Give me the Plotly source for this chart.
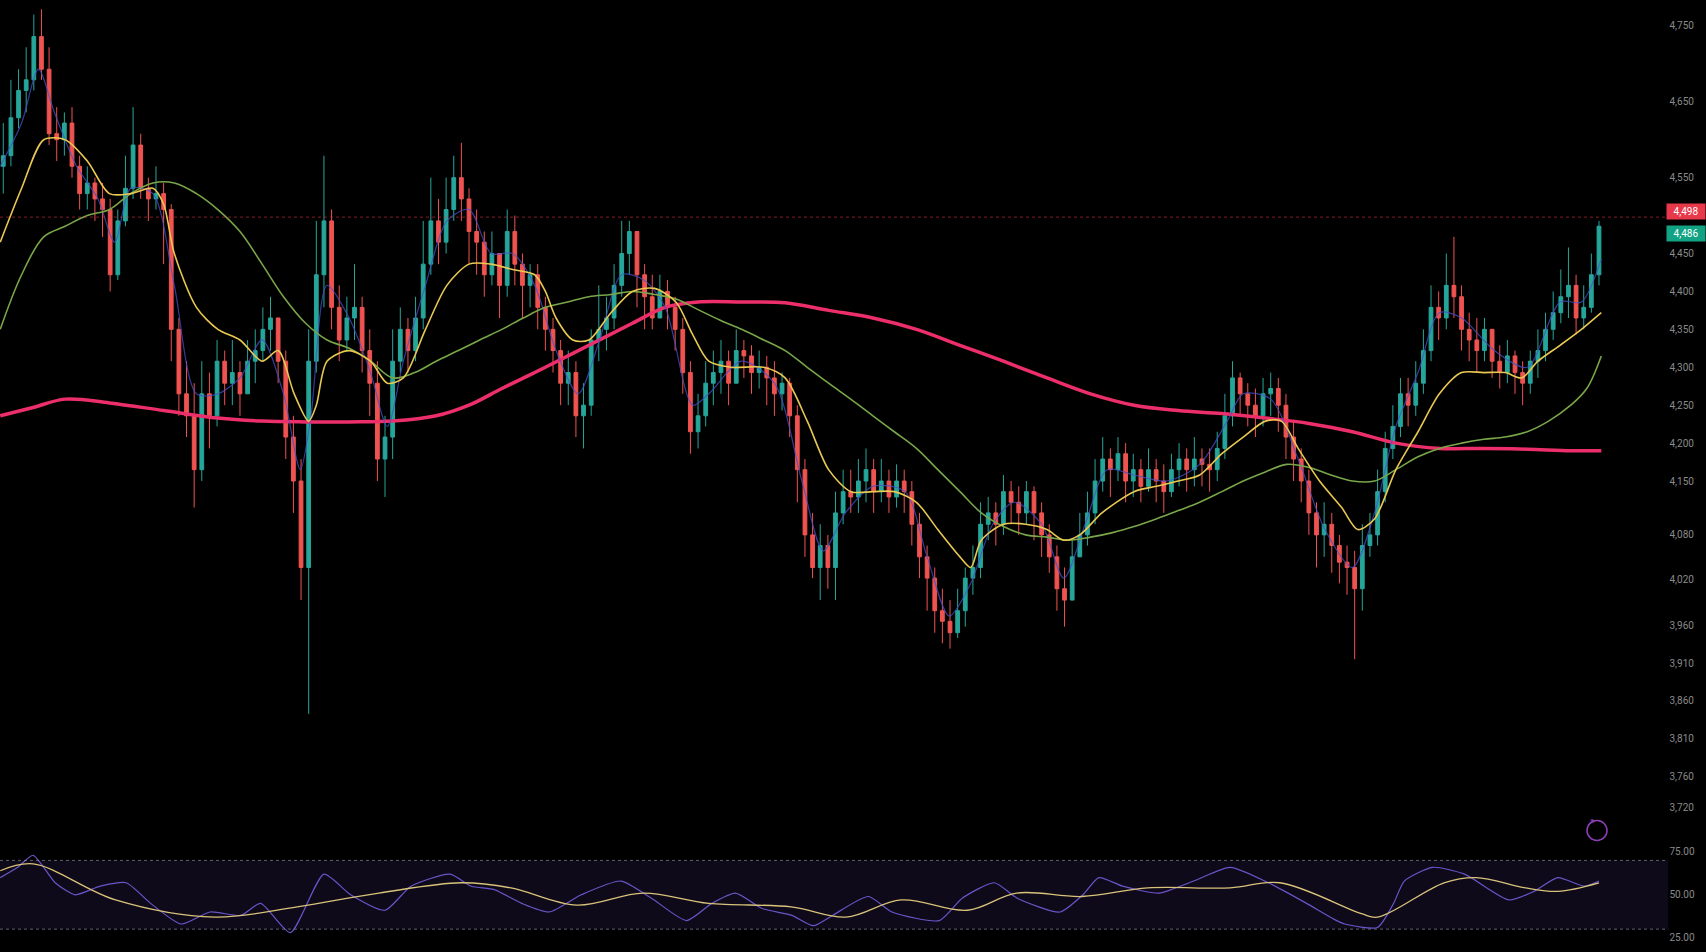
import plotly.graph_objects as go

# ---------------- price candles ----------------
first_open = 4565
close = [4579,4629,4665,4679,4736,4693,4608,4600,4622,4565,4529,4543,4522,4508,4422,4493,4536,4593,4536,4522,
         4529,4508,4350,4265,4236,4165,4265,4236,4308,4279,4293,4265,4308,4322,4350,4365,4308,4208,4150,4036,
         4308,4422,4493,4379,4336,4365,4379,4322,4279,4179,4208,4308,4350,4322,4365,4436,4493,4465,4508,4550,
         4522,4479,4465,4422,4450,4408,4479,4436,4408,4422,4379,4350,4322,4279,4293,4236,4250,4336,4350,4365,
         4408,4450,4479,4422,4393,4365,4400,4379,4350,4293,4215,4236,4279,4293,4308,4279,4322,4315,4293,4300,
         4286,4265,4279,4236,4165,4079,4036,4065,4036,4108,4136,4129,4150,4165,4136,4150,4129,4150,4136,4093,
         4050,4022,3979,3965,3950,3979,4022,4036,4093,4108,4093,4136,4122,4108,4136,4108,4079,4050,4008,3993,
         4050,4079,4108,4150,4179,4165,4186,4150,4165,4143,4165,4150,4136,4165,4179,4165,4179,4172,4165,4193,
         4236,4286,4265,4250,4236,4265,4272,4250,4208,4179,4150,4108,4079,4093,4065,4043,4036,4008,4065,4079,
         4136,4193,4222,4265,4250,4279,4322,4379,4365,4408,4393,4350,4336,4322,4350,4308,4293,4315,4293,4279,
         4308,4322,4350,4372,4393,4408,4365,4379,4422,4486]
high = [4622,4679,4693,4722,4765,4772,4722,4643,4636,4643,4579,4565,4550,4543,4522,4508,4579,4643,4608,4550,
        4565,4543,4515,4365,4308,4279,4308,4293,4336,4322,4336,4308,4336,4350,4379,4393,4365,4322,4236,4179,
        4350,4493,4579,4508,4408,4393,4436,4393,4350,4308,4236,4350,4379,4365,4393,4493,4550,4522,4550,4579,
        4596,4536,4508,4479,4479,4450,4508,4500,4450,4436,4436,4393,4365,4336,4322,4308,4279,4350,4408,4393,
        4436,4493,4493,4472,4436,4422,4422,4415,4393,4365,4308,4265,4308,4322,4336,4322,4350,4336,4329,4322,
        4315,4308,4293,4286,4250,4179,4108,4093,4079,4136,4165,4165,4179,4193,4179,4179,4165,4172,4165,4150,
        4108,4065,4036,4008,3993,4008,4036,4065,4122,4129,4122,4158,4150,4143,4150,4143,4122,4093,4065,4036,
        4072,4108,4136,4179,4208,4193,4208,4200,4186,4179,4193,4179,4172,4186,4200,4193,4208,4193,4193,4215,
        4265,4308,4293,4279,4272,4286,4293,4286,4265,4229,4193,4165,4122,4122,4108,4079,4065,4058,4093,4108,
        4165,4215,4250,4286,4286,4308,4350,4408,4400,4450,4472,4408,4372,4365,4365,4350,4329,4336,4322,4308,
        4322,4350,4372,4400,4429,4458,4422,4408,4450,4493]
low = [4529,4565,4615,4636,4665,4679,4593,4572,4579,4550,4508,4508,4493,4472,4400,4415,4486,4522,4522,4493,
       4508,4436,4308,4236,4208,4115,4150,4193,4222,4250,4250,4236,4265,4279,4308,4322,4279,4179,4108,3993,
       3843,4293,4379,4350,4308,4322,4336,4293,4236,4150,4129,4179,4293,4293,4308,4350,4422,4436,4450,4493,
       4493,4436,4422,4393,4408,4365,4393,4408,4365,4379,4350,4322,4293,4250,4250,4208,4193,4236,4308,4322,
       4350,4393,4422,4379,4350,4350,4365,4350,4322,4265,4186,4193,4222,4250,4265,4250,4279,4286,4265,4272,
       4250,4236,4243,4208,4122,4050,4022,3993,4008,3993,4093,4108,4108,4122,4108,4122,4108,4115,4108,4065,
       4022,3979,3950,3936,3929,3943,3958,4000,4022,4072,4065,4079,4093,4079,4093,4072,4050,4029,3979,3958,
       4000,4050,4065,4093,4136,4129,4150,4122,4129,4122,4136,4122,4108,4129,4143,4136,4143,4143,4136,4150,
       4179,4222,4236,4222,4208,4222,4236,4215,4179,4150,4122,4079,4036,4050,4029,4015,4000,3915,3979,4050,
       4065,4122,4179,4208,4222,4236,4265,4308,4336,4350,4365,4322,4308,4293,4308,4286,4272,4279,4265,4250,
       4265,4286,4308,4336,4358,4365,4343,4350,4372,4408]

# ---------------- moving averages (bar position, value) ----------------
ma_fast_bar = [-0.4,2.4,5.3,8.1,11,13.9,16.7,19.6,21,22.4,25.3,28.1,31,33.9,36,38.1,40,41,42.4,45.3,48.1,50.3,52.4,
               55.3,58.1,61,63.9,66.7,69.6,71,72.4,74.6,76.7,79.6,82.4,85.3,88.1,90.3,92.4,95.3,99.6,102.4,105.3,
               108.1,111,113.9,116.7,119.6,122.4,125.3,126.7,128.1,131,133.9,136.7,138.9,141,143.9,148.1,151,153.9,
               156.7,159.6,162.4,165.3,167.4,169.6,172.4,175.3,177.4,179.6,182.4,185.3,188.1,191,193.9,196.7,198.9,
               201,203.9,206.7,209.3]
ma_fast_val = [4465,4536,4600,4600,4572,4529,4529,4536,4515,4450,4379,4350,4336,4308,4322,4265,4229,4250,4308,4322,
               4308,4279,4286,4350,4408,4436,4436,4429,4422,4400,4365,4336,4336,4372,4400,4404,4386,4343,4308,4300,
               4300,4286,4229,4165,4136,4136,4136,4122,4086,4050,4036,4072,4093,4093,4086,4072,4079,4108,4136,4143,
               4150,4158,4186,4208,4229,4229,4193,4150,4115,4086,4100,4165,4215,4265,4293,4293,4293,4286,4308,4329,
               4350,4372]

ma_mid_bar = [-0.4,2.4,5.3,8.1,11,13.9,16.7,19.6,22.4,25.3,28.1,31,33.9,36.7,39.6,42.4,45.3,48.1,51,53.9,56.7,59.6,
              62.4,65.3,68.1,71,73.9,76.7,79.6,82.4,85.3,88.1,91,93.9,96.7,99.6,102.4,105.3,108.1,111,113.9,116.7,
              119.6,122.4,125.3,128.1,131,133.9,136.7,139.6,142.4,145.3,148.1,151,153.9,156.7,159.6,162.4,165.3,
              168.1,171,173.9,176.7,179.6,182.4,185.3,188.1,191,193.9,196.7,199.6,202.4,205.3,207.4,209.3]
ma_mid_val = [4350,4422,4472,4486,4500,4508,4529,4543,4543,4529,4508,4479,4436,4393,4358,4336,4325,4308,4286,4293,
              4308,4322,4336,4350,4365,4379,4386,4393,4396,4400,4396,4390,4376,4362,4350,4336,4322,4300,4279,4258,
              4236,4215,4193,4165,4136,4108,4090,4079,4076,4072,4076,4082,4090,4100,4111,4122,4136,4150,4162,4172,
              4168,4158,4150,4150,4165,4182,4193,4200,4205,4208,4215,4229,4250,4272,4315]

ma_slow_bar = [-0.4,3.9,8.1,13.9,21,28.1,33.9,39.6,45.3,51,56.7,61,65.3,71,76.7,82.4,86.7,91,96.7,102.4,108.1,113.9,
               119.6,125.3,131,136.7,142.4,148.1,153.9,159.6,165.3,171,176.7,182.4,188.1,193.9,199.6,205.3,209.3]
ma_slow_val = [4236,4247,4258,4253,4243,4233,4229,4228,4228,4229,4236,4250,4272,4300,4329,4358,4379,4386,4386,4385,
               4375,4365,4350,4329,4308,4286,4265,4250,4243,4239,4233,4226,4215,4200,4193,4193,4192,4190,4190]

ma_short_bar = [-0.4,2.4,4.6,6.7,9.6,12.4,14.6,16.7,19.6,22.4,25.3,28.1,31,33.9,36.7,38.9,40.3,42.4,45.3,48.1,50.3,
                52.4,55.3,58.1,61,63.9,66.7,69.6,72.4,75.3,78.1,81,83.9,86.7,90.3,92.4,96.7,101,104.6,107.4,110.3,
                113.9,118.1,121,123.9,126.7,129.6,132.4,136,138.9,141.7,144.6,148.1,152.4,156.7,160.3,162.4,166,
                169.6,173.1,176.7,179.6,182.4,185.3,188.1,191,195.3,199.6,203.9,206.7,209.3]
ma_short_val = [4565,4622,4693,4636,4565,4522,4465,4536,4529,4408,4265,4265,4286,4336,4265,4165,4236,4408,4365,4293,
                4222,4308,4408,4493,4508,4450,4450,4408,4322,4265,4336,4422,4415,4379,4250,4265,4308,4279,4150,4058,
                4108,4143,4136,4050,3972,4015,4093,4122,4093,4022,4093,4165,4158,4150,4172,4229,4265,4258,4179,4086,
                4036,4108,4222,4293,4372,4365,4322,4300,4386,4386,4443]

# ---------------- RSI pane ----------------
rsi_bar = [-0.4,1.9,3.9,6.8,9.4,12.7,16.1,19.3,23.3,27.1,31.1,33.7,37.6,42,45.5,50,53.4,58.5,61.3,64.3,67.9,71.5,75.7,
           80.9,84.9,89.5,92.8,95.9,99.4,103.3,106.1,108.6,113.3,116.4,122.6,125.6,129.8,132.8,138.4,141.4,143.5,
           146.6,151.4,155.9,160.7,165.7,170.7,174.2,175.7,180,182.1,183.5,187.2,191.4,197.2,200.5,203.6,207.1,209]
rsi_val = [60,66,73,57,50,55,57,45,33,40,38,45,28,62,50,41,55,62,55,53,45,40,50,58,48,35,45,51,42,38,32,38,49,40,35,
           48,57,48,40,50,60,55,51,58,66,57,45,36,33,31,45,58,66,62,47,52,60,55,58]
rsi_ma_bar = [-0.4,3.9,14.7,27.7,38.5,49.2,60,66.5,75.1,83.8,92.4,103.2,110.4,117.6,126.3,132.7,141.3,149.9,160.7,
              167.2,177.9,180,188.7,192.9,199.4,203.6,209]
rsi_ma_val = [64,68,47,37,43,51,57,54,44,51,45,43,37,47,41,51,49,54,54,57,39,37,57,60,54,52,57]

main_ticks = [4750,4650,4550,4450,4400,4350,4300,4250,4200,4150,4080,4020,3960,3910,3860,3810,3760,3720]
rsi_ticks = [75,50,25]
ref_line_price = 4498
last_price = close[-1]

# ---------------- build ----------------
bars = list(range(len(close)))
opens = [first_open] + close[:-1]
hi = [max(h, o, c) for h, o, c in zip(high, opens, close)]
lo = [min(l, o, c) for l, o, c in zip(low, opens, close)]

GREEN = "#26a69a"
RED = "#ef5350"
fig = go.Figure()

fig.add_trace(go.Scatter(x=ma_slow_bar, y=ma_slow_val, mode="lines",
                         line=dict(color="#ec2f6b", width=3.5, shape="spline", smoothing=1.0),
                         hoverinfo="skip", showlegend=False))
fig.add_trace(go.Candlestick(x=bars, open=opens, high=hi, low=lo, close=close,
                             increasing=dict(line=dict(color=GREEN, width=1), fillcolor=GREEN),
                             decreasing=dict(line=dict(color=RED, width=1), fillcolor=RED),
                             whiskerwidth=0, showlegend=False))
fig.add_trace(go.Scatter(x=ma_short_bar, y=ma_short_val, mode="lines",
                         line=dict(color="rgba(70,80,200,0.75)", width=1.2, shape="spline", smoothing=0.8),
                         hoverinfo="skip", showlegend=False))
fig.add_trace(go.Scatter(x=ma_mid_bar, y=ma_mid_val, mode="lines",
                         line=dict(color="#79a648", width=1.6, shape="spline", smoothing=1.0),
                         hoverinfo="skip", showlegend=False))
fig.add_trace(go.Scatter(x=ma_fast_bar, y=ma_fast_val, mode="lines",
                         line=dict(color="#e9c852", width=1.6, shape="spline", smoothing=0.8),
                         hoverinfo="skip", showlegend=False))

fig.add_trace(go.Scatter(x=rsi_bar, y=rsi_val, mode="lines", xaxis="x2", yaxis="y2",
                         line=dict(color="#6a55c8", width=1.2, shape="spline", smoothing=0.6),
                         hoverinfo="skip", showlegend=False))
fig.add_trace(go.Scatter(x=rsi_ma_bar, y=rsi_ma_val, mode="lines", xaxis="x2", yaxis="y2",
                         line=dict(color="#d9c27a", width=1.3, shape="spline", smoothing=1.0),
                         hoverinfo="skip", showlegend=False))

XR = [-0.43, 218.1]
DOM_R = 0.978
tickfont = dict(family="Roboto, Noto Sans, sans-serif", size=10, color="#8a8a8a")

fig.update_layout(
    width=1706, height=952,
    margin=dict(l=0, r=0, t=0, b=0),
    paper_bgcolor="#000000", plot_bgcolor="#000000",
    showlegend=False,
    xaxis=dict(domain=[0, DOM_R], range=XR, showgrid=False, zeroline=False, showticklabels=False,
               rangeslider=dict(visible=False), anchor="y"),
    yaxis=dict(domain=[0.1124, 1], range=[3669.5, 4779], side="right", showgrid=False, zeroline=False,
               tickvals=main_ticks, ticktext=[f"{v:,}" for v in main_ticks], tickfont=tickfont,
               ticks="", anchor="x"),
    xaxis2=dict(domain=[0, DOM_R], range=XR, showgrid=False, zeroline=False, showticklabels=False,
                anchor="y2", matches="x"),
    yaxis2=dict(domain=[0, 0.1071], range=[16.7, 75.8], side="right", showgrid=False, zeroline=False,
                tickvals=rsi_ticks, ticktext=[f"{v:.2f}" for v in rsi_ticks], tickfont=tickfont,
                ticks="", anchor="x2"),
)

# RSI band and levels
fig.add_shape(type="rect", xref="x2", yref="y2", x0=XR[0], x1=XR[1], y0=30, y1=70,
              fillcolor="rgba(110,80,200,0.13)", line=dict(width=0), layer="below")
for lvl in (70, 30):
    fig.add_shape(type="line", xref="x2", yref="y2", x0=XR[0], x1=XR[1], y0=lvl, y1=lvl,
                  line=dict(color="rgba(170,170,190,0.55)", width=1, dash="dot"))

# reference price line
fig.add_shape(type="line", xref="x", yref="y", x0=XR[0], x1=XR[1], y0=ref_line_price, y1=ref_line_price,
              line=dict(color="rgba(242,54,69,0.55)", width=1, dash="dot"))

# price labels on the axis
fig.add_annotation(xref="paper", yref="y", x=1.0, y=ref_line_price, xanchor="right", yanchor="middle",
                   yshift=6, text=f"{ref_line_price:,}", showarrow=False, bgcolor="#e8394a",
                   font=dict(family="Roboto, sans-serif", size=10, color="#ffffff"), borderpad=2, width=34)
fig.add_annotation(xref="paper", yref="y", x=1.0, y=last_price, xanchor="right", yanchor="middle",
                   yshift=-7, text=f"{last_price:,}", showarrow=False, bgcolor="#12a385",
                   font=dict(family="Roboto, sans-serif", size=10, color="#ffffff"), borderpad=2, width=34)

# small round badge near the bottom right of the price pane
fig.add_shape(type="circle", xref="paper", yref="paper", xsizemode="pixel", ysizemode="pixel",
              xanchor=1597 / 1706, yanchor=1 - 830 / 952, x0=-10, x1=10, y0=-10, y1=10,
              line=dict(color="#8e3fb8", width=1.5))
fig.add_annotation(xref="paper", yref="paper", x=1597 / 1706, y=1 - 830 / 952, text="↗", showarrow=False,
                   font=dict(size=11, color="#8e3fb8"))

fig.write_html("out.html")
